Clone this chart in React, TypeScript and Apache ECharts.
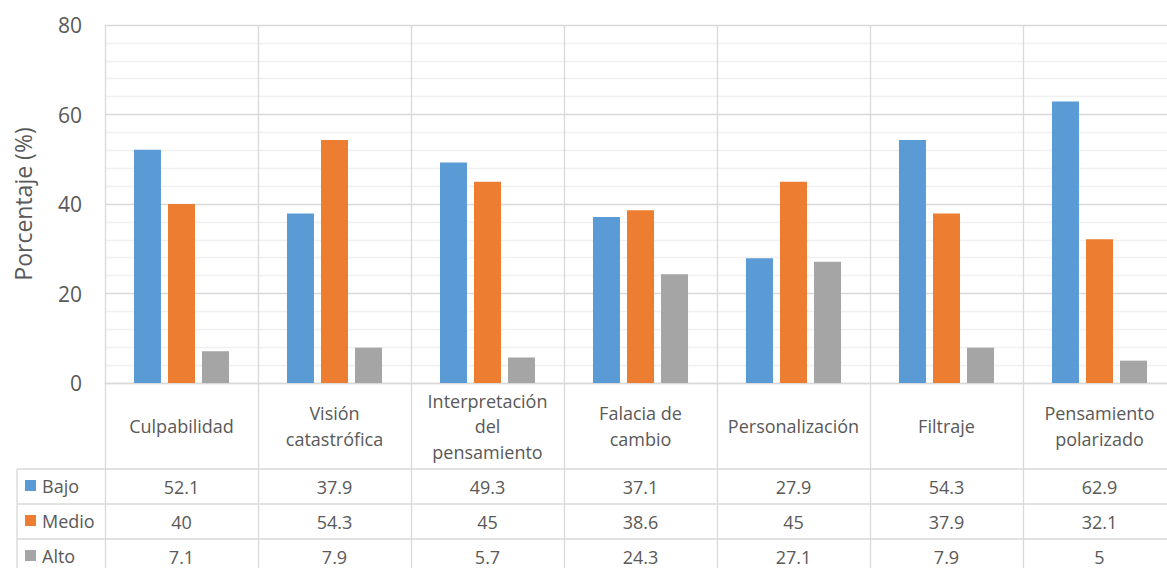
import React, { useEffect, useRef } from "react";
import * as echarts from "echarts";

const categories = [
  "Culpabilidad",
  "Visión\ncatastrófica",
  "Interpretación\ndel\npensamiento",
  "Falacia de\ncambio",
  "Personalización",
  "Filtraje",
  "Pensamiento\npolarizado",
];
const seriesNames = ["Bajo", "Medio", "Alto"];
const bajo = [52.1, 37.9, 49.3, 37.1, 27.9, 54.3, 62.9];
const medio = [40, 54.3, 45, 38.6, 45, 37.9, 32.1];
const alto = [7.1, 7.9, 5.7, 24.3, 27.1, 7.9, 5];
const colors = ["#5b9bd5", "#ed7d31", "#a5a5a5"];
const yTicks = { min: 0, max: 80, interval: 20 };

const TEXT = "#595959";
const LINE = "#d9d9d9";
const FONT = "'Open Sans', 'Noto Sans', sans-serif";

export default function App() {
  const ref = useRef<HTMLDivElement>(null);
  useEffect(() => {
    if (!ref.current) return;
    const chart = echarts.init(ref.current, null, { renderer: "svg" });
    const values = [bajo, medio, alto];
    const plotBottom = 383;
    const rowTops = [469, 504, 539];
    const rowH = 35;

    const tableAxes = values.map((vals, i) => ({
      type: "category",
      gridIndex: 0,
      position: "bottom",
      data: vals.map((v) => String(v)),
      axisLine: { show: false },
      axisTick: { show: false },
      splitLine: { show: false },
      axisLabel: {
        interval: 0,
        margin: rowTops[i] + rowH / 2 - plotBottom,
        verticalAlign: "middle",
        fontSize: 18,
        color: TEXT,
        fontFamily: FONT,
      },
    }));

    const option: any = {
      animation: false,
      textStyle: { fontFamily: FONT },
      grid: { left: 105, top: 25, right: 4, bottom: 568 - plotBottom },
      legend: {
        orient: "vertical",
        left: 25,
        top: rowTops[0] - 1,
        height: 120,
        padding: 0,
        itemWidth: 11,
        itemHeight: 11,
        itemGap: 0,
        icon: "rect",
        selectedMode: false,
        data: seriesNames,
        textStyle: { fontSize: 18, color: TEXT, lineHeight: rowH, padding: [0, 0, 0, 1] },
      },
      xAxis: [
        {
          type: "category",
          data: categories,
          axisLine: { show: true, lineStyle: { color: LINE, width: 1.3 } },
          axisTick: { show: true, length: 568 - plotBottom + 10, lineStyle: { color: LINE, width: 1.3 } },
          splitLine: { show: true, lineStyle: { color: LINE, width: 1.3 } },
          axisLabel: {
            interval: 0,
            margin: 426 - plotBottom,
            verticalAlign: "middle",
            fontSize: 18,
            lineHeight: 25.5,
            color: TEXT,
            fontFamily: FONT,
          },
        },
        ...tableAxes,
      ],
      yAxis: {
        type: "value",
        min: yTicks.min,
        max: yTicks.max,
        interval: yTicks.interval,
        name: "Porcentaje (%)",
        nameLocation: "middle",
        nameRotate: 90,
        nameGap: 71,
        nameTextStyle: { fontSize: 23, color: TEXT, fontFamily: FONT },
        axisLine: { show: false },
        axisTick: { show: false },
        axisLabel: { fontSize: 21, color: TEXT, margin: 23, fontFamily: FONT },
        splitLine: { show: true, lineStyle: { color: LINE, width: 1.3 } },
        minorTick: { show: false, splitNumber: 5 },
        minorSplitLine: { show: true, lineStyle: { color: "#f0f0f0", width: 1.3 } },
      },
      series: values.map((vals, i) => ({
        name: seriesNames[i],
        type: "bar",
        xAxisIndex: 0,
        data: vals,
        barWidth: 27,
        barGap: "26%",
        itemStyle: { color: colors[i] },
      })),
      graphic: [
        ...rowTops.map((y) => ({
          type: "line",
          shape: { x1: 17, y1: y, x2: 1180, y2: y },
          style: { stroke: LINE, lineWidth: 1.3 },
          silent: true,
        })),
        {
          type: "line",
          shape: { x1: 17, y1: rowTops[0], x2: 17, y2: 580 },
          style: { stroke: LINE, lineWidth: 1.3 },
          silent: true,
        },
      ],
    };
    chart.setOption(option);
    return () => chart.dispose();
  }, []);

  return (
    <div
      style={{
        position: "fixed",
        left: 0,
        top: 0,
        width: "100vw",
        height: "100vh",
        overflow: "hidden",
        background: "#fff",
      }}
    >
      <div ref={ref} style={{ width: 1180, height: 568 }} />
    </div>
  );
}
